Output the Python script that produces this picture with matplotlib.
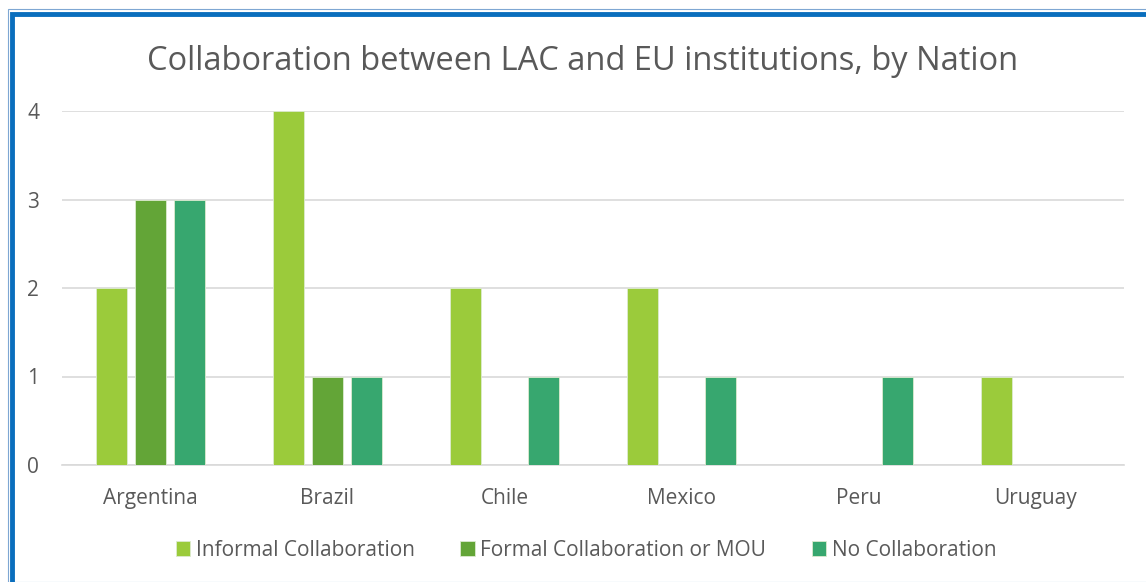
import matplotlib
matplotlib.use("Agg")
import matplotlib.pyplot as plt
from matplotlib.patches import Rectangle
import numpy as np

countries = ["Argentina", "Brazil", "Chile", "Mexico", "Peru", "Uruguay"]
informal = [2, 4, 2, 2, 0, 1]
formal = [3, 1, 0, 0, 0, 0]
no_collab = [3, 1, 1, 1, 1, 0]
series_names = ["Informal Collaboration", "Formal Collaboration or MOU", "No Collaboration"]
colors = ["#9BCB3B", "#63A537", "#37A76F"]

plt.rcParams['font.family'] = ['Open Sans', 'DejaVu Sans']

fig = plt.figure(figsize=(11.46, 5.82), dpi=100)
W, H = 1146, 582

# blue frame
fig.patches.append(Rectangle((8/W, 0), 1.2, 1 - 9/H, transform=fig.transFigure,
                             fill=False, edgecolor="#7FA7D3", linewidth=0.8))
fig.patches.append(Rectangle((12/W, -0.2), 1.2, 1.2 - 14/H, transform=fig.transFigure,
                             fill=False, edgecolor="#0A6EBD", linewidth=3.5))

ax = fig.add_axes([62/W, 1 - 465/H, (1124 - 62)/W, (465 - 111)/H])
x = np.arange(len(countries))
off = 0.22
bw = 0.175
for i, (vals, name, c) in enumerate(zip([informal, formal, no_collab], series_names, colors)):
    ax.bar(x + (i - 1) * off, vals, width=bw, color=c, label=name, zorder=3,
           edgecolor="#DDEBD0", linewidth=0.6)

ax.set_xlim(-0.5, len(countries) - 0.5)
ax.set_ylim(0, 4)
ax.set_yticks([0, 1, 2, 3, 4])
ax.set_xticks(x)
ax.set_xticklabels(countries)
ax.grid(axis="y", color="#D9D9D9", linewidth=1.2, zorder=0)
ax.set_axisbelow(True)
for s in ["top", "right", "left"]:
    ax.spines[s].set_visible(False)
ax.spines["bottom"].set_color("#D9D9D9")
ax.spines["bottom"].set_linewidth(1.2)
ax.tick_params(axis="both", length=0, labelsize=15, colors="#595959")
ax.tick_params(axis="x", pad=16.5)
ax.tick_params(axis="y", pad=16.5)

fig.text(583/W, 1 - 61/H, "Collaboration between LAC and EU institutions, by Nation",
         ha="center", va="center", fontsize=23.5, color="#595959")

leg = fig.legend(loc="center", bbox_to_anchor=(586/W, 1 - 550/H), ncol=3, frameon=False,
                 fontsize=15, handlelength=0.7, handleheight=0.7, handletextpad=0.25,
                 columnspacing=2.2)
for t in leg.get_texts():
    t.set_color("#595959")

fig.savefig("out.png", dpi=100)
